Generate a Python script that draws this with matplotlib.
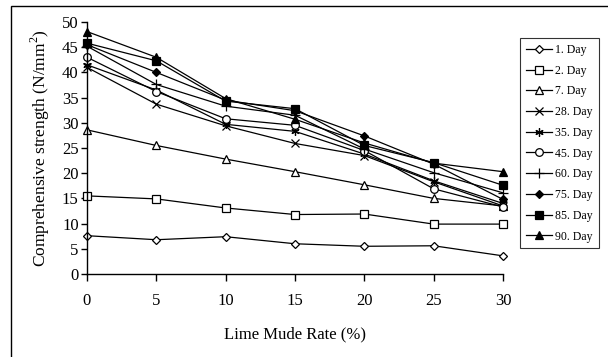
import matplotlib
matplotlib.use("Agg")
import matplotlib.pyplot as plt
from matplotlib.patches import Rectangle

plt.rcParams['font.family'] = ['Liberation Serif', 'DejaVu Serif']
plt.rcParams['mathtext.fontset'] = 'custom'
plt.rcParams['mathtext.rm'] = 'Liberation Serif'

rates = [0, 5, 10, 15, 20, 25, 30]
labels = ["1. Day", "2. Day", "7. Day", "28. Day", "35. Day", "45. Day",
          "60. Day", "75. Day", "85. Day", "90. Day"]
day1 = [7.6, 6.8, 7.4, 6.0, 5.5, 5.6, 3.6]
day2 = [15.5, 14.9, 13.1, 11.8, 11.9, 9.9, 9.9]
day7 = [28.6, 25.5, 22.8, 20.3, 17.7, 15.0, 13.5]
day28 = [41.0, 33.7, 29.4, 25.9, 23.5, 18.3, 13.5]
day35 = [41.5, 36.5, 29.7, 28.3, 23.8, 18.5, 14.0]
day45 = [43.0, 36.2, 30.8, 29.5, 24.5, 16.9, 13.3]
day60 = [45.2, 37.6, 33.3, 31.5, 24.8, 20.1, 16.1]
day75 = [45.5, 40.0, 34.5, 32.4, 27.4, 21.8, 14.8]
day85 = [45.8, 42.3, 34.3, 32.8, 25.5, 22.1, 17.6]
day90 = [48.1, 43.0, 34.8, 30.7, 26.0, 22.0, 20.3]
series = [day1, day2, day7, day28, day35, day45, day60, day75, day85, day90]

styles = [
    dict(marker='D', ms=3.8, mfc='white'),
    dict(marker='s', ms=5.5, mfc='white'),
    dict(marker='^', ms=5.5, mfc='white'),
    dict(marker='x', ms=5.5, mfc='white'),
    dict(marker=(6, 2, 0), ms=6, mfc='white'),
    dict(marker='o', ms=5.5, mfc='white'),
    dict(marker='+', ms=7, mfc='white'),
    dict(marker='D', ms=3.8, mfc='black'),
    dict(marker='s', ms=5.5, mfc='black'),
    dict(marker='^', ms=5.5, mfc='black'),
]

fig = plt.figure(figsize=(6.08, 3.57), dpi=100)
# outer frame (left and top visible)
fig.patches.append(Rectangle((11/608, -0.1), 1.2, 1 - 6/357 + 0.1,
                             transform=fig.transFigure, fill=False,
                             edgecolor='black', linewidth=1.0))
ax = fig.add_axes([87/608, 1 - 274/357, (503 - 87)/608, (274 - 22)/357])

for vals, lab, st in zip(series, labels, styles):
    ax.plot(rates, vals, color='black', linewidth=0.9, mec='black',
            mew=0.9, label=lab, **st)

ax.set_xlim(0, 30)
ax.set_ylim(0, 50)
ax.set_xticks(rates)
ax.set_yticks(range(0, 51, 5))
for s in ['top', 'right']:
    ax.spines[s].set_visible(False)
for s in ['left', 'bottom']:
    ax.spines[s].set_linewidth(1.0)
ax.tick_params(axis='x', direction='out', length=5, width=1.0, pad=9, labelsize=12)
ax.tick_params(axis='y', direction='out', length=4, width=1.0, pad=2, labelsize=12)
for sp in ax.spines.values():
    sp.set_clip_on(False)
for ln in ax.lines:
    ln.set_clip_on(False)

ax.set_xlabel("Lime Mude Rate (%)", fontsize=12, labelpad=12)
ax.set_ylabel("Comprehensive strength (N/mm$^2$)", fontsize=12.5, labelpad=7)

leg = ax.legend(loc='upper left',
                bbox_to_anchor=(520/608, 1 - 248/357, 79/608, 210/357),
                bbox_transform=fig.transFigure, mode='expand', frameon=True,
                fancybox=False, edgecolor='black', fontsize=8.5, handlelength=2.2,
                handletextpad=0.3, borderpad=0.5, labelspacing=0.74,
                borderaxespad=0)
leg.get_frame().set_linewidth(0.8)

fig.savefig("out.png", dpi=100)
